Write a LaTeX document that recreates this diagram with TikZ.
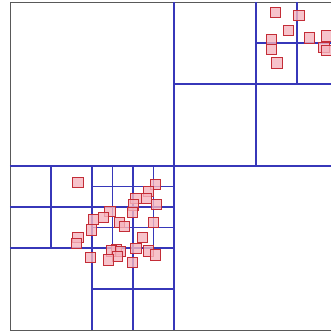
\documentclass[tikz,border=0pt]{standalone}
\usepackage{tikz}

\definecolor{gridblue}{RGB}{55,55,185}
\definecolor{ptfill}{RGB}{245,180,190}
\definecolor{ptdraw}{RGB}{195,45,55}

\tikzset{
  cell/.style={gridblue, line width=1.7pt},
  pt/.style={draw=ptdraw, fill=ptfill, fill opacity=0.8, line width=0.8pt}
}

\begin{document}
\begin{tikzpicture}[x=1.23cm, y=-1.23cm]
\useasboundingbox (-0.2439,-0.0488) rectangle (7.829,8.049);
\clip (-0.2439,-0.0488) rectangle (7.829,8.049);

% Root cell
\draw[gray!70!black, line width=0.7pt] (0,0) rectangle (8,8);
\draw[cell] (4,0) -- (4,8);
\draw[cell] (0,4) -- (8,4);

% Upper right quadrant
\draw[cell] (6,0) -- (6,4);
\draw[cell] (4,2) -- (8,2);
\draw[cell] (7,0) -- (7,2);
\draw[cell] (6,1) -- (8,1);

% Lower left quadrant
\draw[cell] (2,4) -- (2,8);
\draw[cell] (0,6) -- (4,6);
\draw[cell] (1,4) -- (1,6);
\draw[cell] (0,5) -- (2,5);
\draw[cell] (3,4) -- (3,8);
\draw[cell] (2,5) -- (4,5);
\draw[cell] (2,7) -- (4,7);
\draw[cell] (2.5,4) -- (2.5,6);
\draw[cell] (3.5,4) -- (3.5,6);
\draw[cell] (2,4.5) -- (4,4.5);
\draw[cell] (2,5.5) -- (4,5.5);

% Points
\foreach \x/\y in {6.47/0.26, 7.05/0.32, 6.80/0.69, 6.37/0.92, 6.37/1.15,
    7.31/0.88, 7.71/0.83, 7.66/1.10, 7.71/1.18, 6.51/1.49,
    1.66/4.40, 3.55/4.45, 3.37/4.63, 3.07/4.80, 3.32/4.80,
    3.58/4.94, 3.02/4.95, 2.44/5.10, 2.98/5.14, 2.28/5.25,
    2.04/5.30, 2.67/5.37, 2.79/5.48, 3.50/5.37, 1.98/5.56,
    1.66/5.74, 1.62/5.89, 3.24/5.75, 2.59/6.03, 2.48/6.07,
    2.70/6.09, 2.63/6.21, 2.41/6.29, 1.96/6.24, 3.07/6.01,
    3.38/6.07, 3.54/6.17, 2.98/6.35}
  \draw[pt] (\x-0.125,\y-0.125) rectangle (\x+0.125,\y+0.125);
\end{tikzpicture}
\end{document}
